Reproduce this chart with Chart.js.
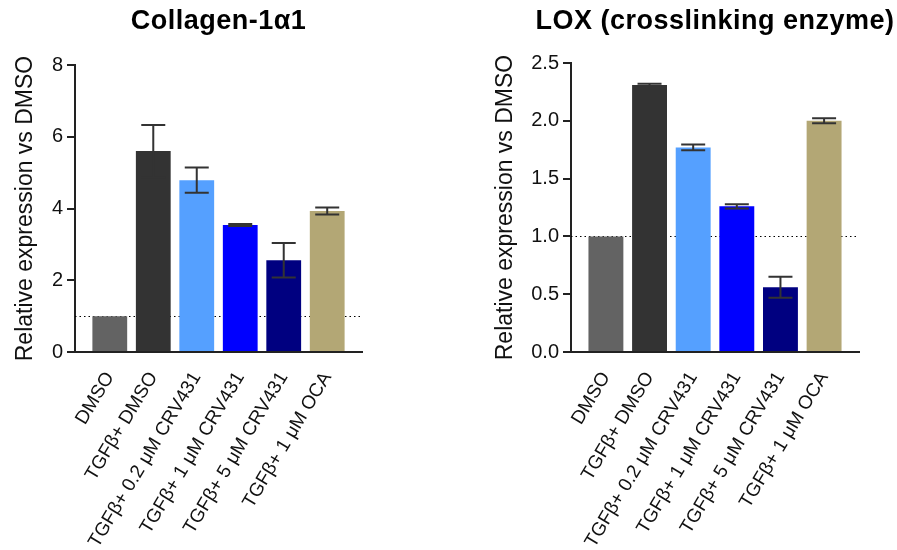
<!DOCTYPE html>
<html>
<head>
<meta charset="utf-8">
<script src="https://cdn.jsdelivr.net/npm/chart.js@4.4.0/dist/chart.umd.min.js"></script>
<style>
  html, body { margin: 0; padding: 0; background: #fff; }
  #wrap { position: relative; width: 897px; height: 550px; overflow: hidden; }
  canvas { position: absolute; top: 0; }
  #colChart { left: 0; }
  #loxChart { left: 450px; }
</style>
</head>
<body>
<div id="wrap">
  <canvas id="colChart" width="450" height="550"></canvas>
  <canvas id="loxChart" width="447" height="550"></canvas>
</div>
<script>
// treatment groups shared by both panels
const groups = ['DMSO', 'TGFβ+ DMSO', 'TGFβ+ 0.2 μM CRV431', 'TGFβ+ 1 μM CRV431', 'TGFβ+ 5 μM CRV431', 'TGFβ+ 1 μM OCA'];
const barColors = ['#636363', '#333333', '#55a0ff', '#0000ff', '#000080', '#b3a775'];

// Collagen-1a1 (mean, SEM)
const col1a1Mean = [1.0, 5.60, 4.79, 3.54, 2.56, 3.93];
const col1a1Err = [0, 0.73, 0.35, 0.03, 0.48, 0.10];
const col1a1Ticks = [0, 2, 4, 6, 8];

// LOX (mean, SEM)
const loxMean = [1.0, 2.31, 1.77, 1.26, 0.56, 2.00];
const loxErr = [0, 0.01, 0.025, 0.018, 0.09, 0.022];
const loxTicks = [0.0, 0.5, 1.0, 1.5, 2.0, 2.5];

const baseline = 1; // DMSO level, dotted line

const FONT = '"Liberation Sans", Arial, Helvetica, sans-serif';
Chart.defaults.font.family = FONT;
Chart.defaults.color = '#111';

// dotted line at the DMSO level, under the bars
const refLine = {
    id: 'refLine',
    beforeDatasetsDraw(chart) {
        const { ctx, chartArea, scales } = chart;
        const y = Math.round(scales.y.getPixelForValue(baseline)) + 0.5;
        ctx.save();
        ctx.strokeStyle = '#000';
        ctx.lineWidth = 1;
        ctx.setLineDash([1.5, 3]);
        ctx.beginPath();
        ctx.moveTo(chartArea.left, y);
        ctx.lineTo(chartArea.right, y);
        ctx.stroke();
        ctx.restore();
    }
};

// SEM whiskers with caps
const errorBars = {
    id: 'errorBars',
    afterDatasetsDraw(chart, args, opts) {
        const { ctx, scales } = chart;
        const meta = chart.getDatasetMeta(0);
        const means = chart.data.datasets[0].data;
        ctx.save();
        ctx.strokeStyle = '#333';
        ctx.lineWidth = 2;
        meta.data.forEach((bar, i) => {
            const e = opts.errors[i];
            if (!e) return;
            const v = means[i].y;
            const top = scales.y.getPixelForValue(v + e);
            const bot = scales.y.getPixelForValue(v - e);
            const x = bar.x;
            ctx.beginPath();
            ctx.moveTo(x, top); ctx.lineTo(x, bot);
            ctx.moveTo(x - 12, top); ctx.lineTo(x + 12, top);
            ctx.moveTo(x - 12, bot); ctx.lineTo(x + 12, bot);
            ctx.stroke();
        });
        ctx.restore();
    }
};

// bold panel title centred over the plot area
const panelTitle = {
    id: 'panelTitle',
    afterDraw(chart, args, opts) {
        const { ctx, chartArea } = chart;
        ctx.save();
        ctx.font = 'bold 27px ' + FONT;
        ctx.letterSpacing = '0.5px';
        ctx.fillStyle = '#000';
        ctx.textAlign = 'center';
        ctx.textBaseline = 'middle';
        ctx.fillText(opts.text, (chartArea.left + chartArea.right) / 2, 22);
        ctx.restore();
    }
};

function makePanel(id, title, means, errs, ticks, decimals, box) {
    const yMin = ticks[0];
    const yMax = ticks[ticks.length - 1];
    return new Chart(document.getElementById(id), {
        type: 'bar',
        data: {
            datasets: [{
                data: means.map((v, i) => ({ x: i, y: v })),
                backgroundColor: barColors,
                borderWidth: 0,
                barPercentage: 0.8,
                categoryPercentage: 1
            }]
        },
        options: {
            responsive: false,
            animation: false,
            devicePixelRatio: 1,
            layout: { padding: { top: box.top, right: box.right, left: 0, bottom: 0 } },
            plugins: {
                legend: { display: false },
                tooltip: { enabled: false },
                errorBars: { errors: errs },
                panelTitle: { text: title }
            },
            scales: {
                x: {
                    type: 'linear',
                    min: -0.8,
                    max: 5.8,
                    offset: false,
                    grid: { display: false, drawTicks: false, offset: false },
                    border: { color: '#222', width: 2 },
                    afterFit: (scale) => { scale.height = box.xHeight; },
                    ticks: {
                        stepSize: 1,
                        autoSkip: false,
                        includeBounds: false,
                        minRotation: 59,
                        maxRotation: 59,
                        padding: 16,
                        font: { size: 19 },
                        color: '#111',
                        callback: (v) => (Number.isInteger(v) && groups[v] !== undefined ? groups[v] : '')
                    }
                },
                y: {
                    min: yMin,
                    max: yMax,
                    afterFit: (scale) => { scale.width = box.yWidth; },
                    grid: {
                        drawOnChartArea: false,
                        drawTicks: true,
                        tickLength: 8,
                        color: '#222',
                        lineWidth: 2
                    },
                    border: { color: '#222', width: 2 },
                    afterBuildTicks: (scale) => { scale.ticks = ticks.map(v => ({ value: v })); },
                    ticks: {
                        padding: 4,
                        font: { size: 20 },
                        color: '#111',
                        callback: (v) => Number(v).toFixed(decimals)
                    },
                    title: {
                        display: true,
                        text: 'Relative expression vs DMSO',
                        font: { size: 23 },
                        color: '#111',
                        padding: { top: box.titlePad, bottom: 0 }
                    }
                }
            }
        },
        plugins: [refLine, errorBars, panelTitle]
    });
}

makePanel('colChart', 'Collagen-1α1', col1a1Mean, col1a1Err, col1a1Ticks, 0,
    { top: 65, right: 88, yWidth: 75, xHeight: 198, titlePad: 12 });
makePanel('loxChart', 'LOX (crosslinking enzyme)', loxMean, loxErr, loxTicks, 1,
    { top: 63, right: 38, yWidth: 121, xHeight: 198, titlePad: 42 });
</script>
</body>
</html>
